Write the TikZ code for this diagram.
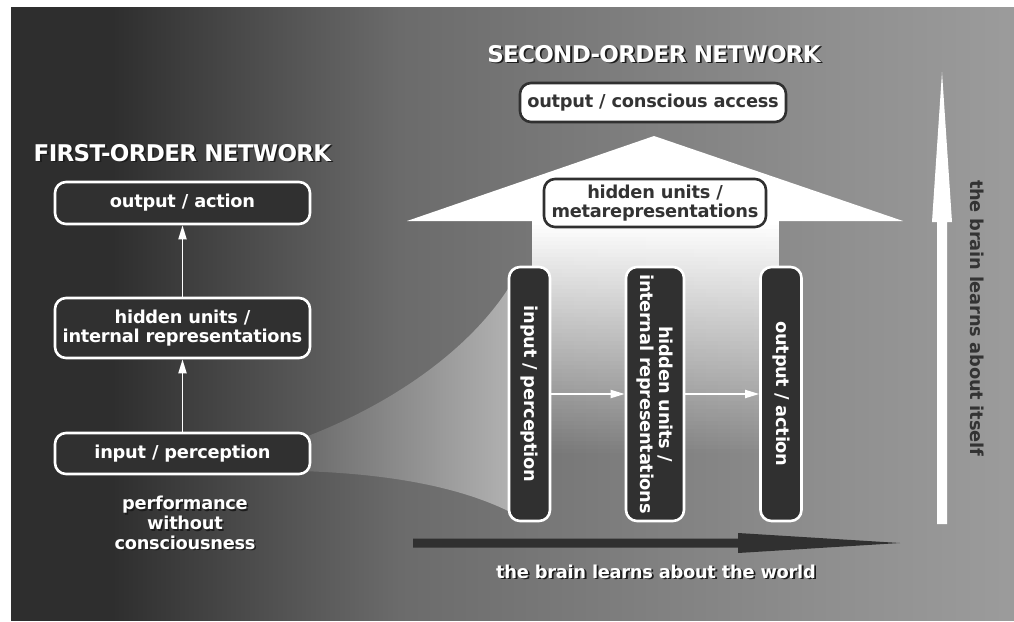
\documentclass[tikz,border=0pt]{standalone}
\usepackage{fontspec}
\setmainfont{DejaVu Sans}
\usetikzlibrary{arrows.meta}

\definecolor{boxdark}{HTML}{303030}
\definecolor{inkdark}{HTML}{333333}
\definecolor{shadowc}{HTML}{1C1C1C}
\definecolor{funA}{HTML}{6A6A6A}
\definecolor{funB}{HTML}{B4B4B4}
\definecolor{bgA}{gray}{0.18}
\definecolor{bgB}{gray}{0.33}
\definecolor{bgC}{gray}{0.42}
\definecolor{bgD}{gray}{0.56}
\definecolor{bgE}{gray}{0.61}

% backdrop: dark on the left, light grey on the right
\pgfdeclarehorizontalshading{backdrop}{100bp}{color(0bp)=(bgA); color(25bp)=(bgA); color(30bp)=(bgA); color(38.9bp)=(bgB); color(44.4bp)=(bgC); color(65.8bp)=(bgD); color(75bp)=(bgE); color(100bp)=(bgE)}

\newcommand\boxfont{\fontsize{17.8}{19.8}\selectfont\bfseries\addfontfeatures{LetterSpace=-1.5}}
\newcommand\headfont{\fontsize{23}{26}\selectfont\bfseries\addfontfeatures{LetterSpace=-3}}

\begin{document}
\begin{tikzpicture}[x=1pt,y=-1pt,
  darkbox/.style={draw=white, line width=2.6pt, fill=boxdark, rounded corners=11pt,
    text=white, font=\boxfont, align=center, inner sep=0pt},
  lightbox/.style={draw=boxdark, line width=2.6pt, fill=white, rounded corners=11pt,
    text=inkdark, font=\boxfont, align=center, inner sep=0pt},
  flow/.style={draw=white, line width=1.8pt, -{Triangle[length=14pt,width=8pt]}},
  headtext/.style={font=\headfont, text=white, inner sep=0pt, anchor=base},
  headshadow/.style={font=\headfont, text=shadowc, inner sep=0pt, anchor=base},
  plaintext/.style={font=\boxfont, text=white, inner sep=0pt, align=center},
  plainshadow/.style={font=\boxfont, text=shadowc, inner sep=0pt, align=center},
]
\useasboundingbox (0,0) rectangle (1014,621);
\shade[shading=backdrop] (11,7) rectangle (1014,620);

% funnel widening from the first-order input to the second-order input
\shade[left color=funA, right color=funB]
  (300,439) .. controls (400,402) and (482,340) .. (518,272)
  -- (518,516) .. controls (470,490) and (400,474) .. (300,471) -- cycle;

% broad upward arrow: solid head, shaft fading downwards
\fill[white] (407,221) -- (654,136) -- (903,221) -- cycle;
\foreach \i [evaluate=\i as \op using 1-\i/58] in {0,...,57}
  \fill[white, opacity=\op] (532,{221+4*\i}) rectangle (779,{225+4*\i});

% "learns about itself" arrow
\fill[white] (937,524) -- (937,222) -- (932,222) -- (942,72) -- (952,222)
  -- (947,222) -- (947,524) -- cycle;

% "learns about the world" arrow
\fill[boxdark] (413,538.5) -- (738,538.5) -- (738,533) -- (900,543)
  -- (738,553) -- (738,547.5) -- (413,547.5) -- cycle;

% first-order network
\node[headshadow] (t1s) at (184.3,162.8) {FIRST-ORDER NETWORK};
\node[headtext] (t1) at (182.5,161) {FIRST-ORDER NETWORK};
\node[darkbox, minimum width=255pt, minimum height=42pt] (oa1) at (182.5,203) {output / action};
\node[darkbox, minimum width=255pt, minimum height=60pt] (hu1) at (182.5,328) {hidden units /\\internal representations};
\node[darkbox, minimum width=255pt, minimum height=41pt] (ip1) at (182.5,453.5) {input / perception};
\draw[flow] (ip1) -- (hu1);
\draw[flow] (hu1) -- (oa1);
\node[plainshadow] (perfs) at (186.5,524.5) {performance\\without\\consciousness};
\node[plaintext] (perf) at (185,523) {performance\\without\\consciousness};

% second-order network
\node[headshadow] (t2s) at (655.8,63.8) {SECOND-ORDER NETWORK};
\node[headtext] (t2) at (654,62) {SECOND-ORDER NETWORK};
\node[lightbox, minimum width=266pt, minimum height=39pt] (oc2) at (653,102.5) {output / conscious access};
\node[lightbox, minimum width=222pt, minimum height=48pt] (hm2) at (655,203) {hidden units /\\metarepresentations};
\node[darkbox, rotate=-90, minimum width=254pt, minimum height=41pt] (ip2) at (529.5,394) {input / perception};
\node[darkbox, rotate=-90, minimum width=254pt, minimum height=58pt] (hu2) at (655,394) {hidden units /\\internal representations};
\node[darkbox, rotate=-90, minimum width=254pt, minimum height=41pt] (oa2) at (781,394) {output / action};
\draw[flow] (ip2) -- (hu2);
\draw[flow] (hu2) -- (oa2);

% arrow labels
\node[plainshadow, anchor=base] (worlds) at (657.8,579.8) {the brain learns about the world};
\node[plaintext, anchor=base] (world) at (656,578) {the brain learns about the world};
\node[font=\boxfont, text=inkdark, inner sep=0pt, rotate=-90] (self) at (977,318) {the brain learns about itself};
\end{tikzpicture}
\end{document}
